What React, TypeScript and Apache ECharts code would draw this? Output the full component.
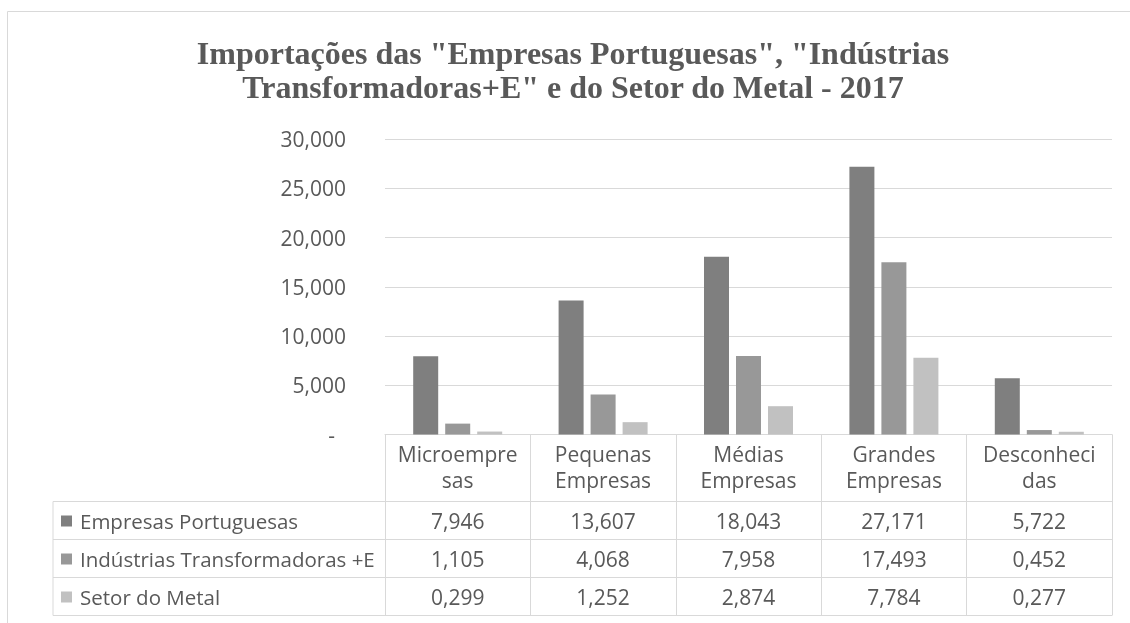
import React, { useEffect, useRef } from "react";
import * as echarts from "echarts";

const categories = ["Microempresas", "Pequenas Empresas", "Médias Empresas", "Grandes Empresas", "Desconhecidas"];
const headerLabels = ["Microempre\nsas", "Pequenas\nEmpresas", "Médias\nEmpresas", "Grandes\nEmpresas", "Desconheci\ndas"];
const seriesNames = ["Empresas Portuguesas", "Indústrias Transformadoras +E", "Setor do Metal"];
const empresasPortuguesas = [7.946, 13.607, 18.043, 27.171, 5.722];
const industriasTransformadoras = [1.105, 4.068, 7.958, 17.493, 0.452];
const setorMetal = [0.299, 1.252, 2.874, 7.784, 0.277];
const seriesValues = [empresasPortuguesas, industriasTransformadoras, setorMetal];
const colors = ["#7f7f7f", "#989898", "#c1c1c1"];
const titleText = 'Importações das "Empresas Portuguesas", "Indústrias\nTransformadoras+E" e do Setor do Metal - 2017';

const fmt = (v: number) => v.toFixed(3).replace(".", ",");

export default function App() {
  const ref = useRef<HTMLDivElement>(null);
  useEffect(() => {
    if (!ref.current) return;
    const chart = echarts.init(ref.current, null, { renderer: "svg" });
    const W = 1130, H = 623;
    const gridLeft = 385, gridRight = 18, gridTop = 139, gridBottom = 188.5;
    const axisY = H - gridBottom;
    const rowH = 38;
    const headerBottom = 501.5;
    const tableLeft = 53;
    const tableRight = W - gridRight;
    const tableBottom = headerBottom + rowH * 3;
    const font = "'Open Sans', sans-serif";
    const fs = 21;
    const textColor = "#595959";
    const lineColor = "#d9d9d9";

    const rowAxes = seriesValues.map((vals, k) => ({
      type: "category",
      data: categories,
      position: "bottom",
      offset: headerBottom - axisY + rowH * k + 9,
      axisLine: { show: false },
      axisTick: { show: false },
      axisLabel: {
        interval: 0,
        margin: 0,
        fontFamily: font,
        fontSize: fs,
        color: textColor,
        lineHeight: 20,
        formatter: (_v: string, i: number) => fmt(vals[i]),
      },
    }));

    const hLines = [headerBottom, headerBottom + rowH, headerBottom + 2 * rowH, tableBottom].map((y) => ({
      type: "line",
      shape: { x1: tableLeft, y1: y, x2: tableRight, y2: y },
      style: { stroke: lineColor, lineWidth: 1 },
      silent: true,
    }));

    chart.setOption({
      animation: false,
      title: {
        text: titleText,
        left: 568,
        top: 31,
        textAlign: "center",
        textStyle: {
          fontFamily: "'Liberation Serif', 'Times New Roman', serif",
          fontWeight: "bold",
          fontSize: 32,
          lineHeight: 34,
          color: textColor,
        },
      },
      legend: {
        orient: "vertical",
        left: 61,
        top: headerBottom + 9,
        padding: 0,
        itemWidth: 11,
        itemHeight: 11,
        itemGap: 17,
        icon: "rect",
        selectedMode: false,
        textStyle: { fontFamily: font, fontSize: 20.5, color: textColor, lineHeight: 20, padding: [0, 0, 0, 3] },
        data: seriesNames,
      },
      grid: { left: gridLeft, right: gridRight, top: gridTop, bottom: gridBottom, containLabel: false },
      xAxis: [
        {
          type: "category",
          data: categories,
          axisLine: { show: true, lineStyle: { color: lineColor, width: 1 } },
          axisTick: { show: true, length: tableBottom - axisY, lineStyle: { color: lineColor, width: 1 } },
          axisLabel: {
            interval: 0,
            margin: 6,
            fontFamily: font,
            fontSize: fs,
            color: textColor,
            lineHeight: 26,
            formatter: (_v: string, i: number) => headerLabels[i],
          },
        },
        ...rowAxes,
      ],
      yAxis: {
        type: "value",
        min: 0,
        max: 30,
        interval: 5,
        axisLine: { show: false },
        axisTick: { show: false },
        splitLine: { lineStyle: { color: lineColor, width: 1 } },
        axisLabel: {
          margin: 39,
          fontFamily: font,
          fontSize: fs,
          color: textColor,
          formatter: (v: number) => (v === 0 ? "{d|-}" : fmt(v)),
          rich: { d: { fontFamily: font, fontSize: fs, color: textColor, padding: [0, 11, 0, 0] } },
        },
      },
      series: seriesNames.map((name, k) => ({
        name,
        type: "bar",
        data: seriesValues[k],
        xAxisIndex: 0,
        barWidth: 25,
        barGap: "28%",
        itemStyle: { color: colors[k] },
      })),
      graphic: [
        {
          type: "rect",
          shape: { x: 7.5, y: 11.5, width: W + 20, height: H + 20 },
          style: { fill: "none", stroke: lineColor, lineWidth: 1 },
          silent: true,
        },
        ...hLines,
        {
          type: "line",
          shape: { x1: tableLeft, y1: headerBottom, x2: tableLeft, y2: tableBottom },
          style: { stroke: lineColor, lineWidth: 1 },
          silent: true,
        },
      ],
    });
    return () => chart.dispose();
  }, []);
  return <div ref={ref} style={{ position: "fixed", left: 0, top: 0, width: 1130, height: 623 }} />;
}
